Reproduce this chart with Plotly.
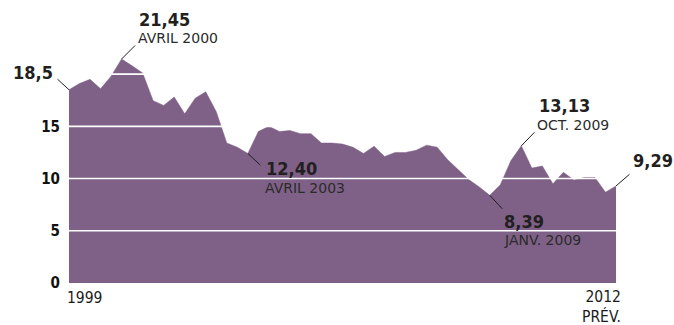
import plotly.graph_objects as go

# Quarterly series, 1999 to 2012 (forecast)
years = [1999.0 + 0.25 * i for i in range(53)]
values = [
    18.5, 19.1, 19.5, 18.6,          # 1999
    19.8, 21.45, 20.8, 20.1,         # 2000
    17.45, 17.0, 17.8, 16.2,         # 2001
    17.7, 18.3, 16.4, 13.4,          # 2002
    13.0, 12.40, 14.5, 15.0,         # 2003
    14.5, 14.6, 14.3, 14.3,          # 2004
    13.4, 13.4, 13.3, 13.0,          # 2005
    12.4, 13.1, 12.1, 12.5,          # 2006
    12.5, 12.7, 13.2, 13.0,          # 2007
    11.8, 10.8, 9.9, 9.2,            # 2008
    8.39, 9.4, 11.7, 13.13,          # 2009
    11.0, 11.2, 9.5, 10.6,           # 2010
    9.85, 10.1, 10.1, 8.7,           # 2011
    9.29,                            # 2012 prév.
]
ytick_vals = [0, 5, 10, 15]
ytick_text = ["0", "5", "10", "15"]
grid_vals = [5, 10, 15, 20]

# callouts: (x, y, value text, date text)
callouts = [
    (1999.0, 18.5, "18,5", None),
    (2000.25, 21.45, "21,45", "AVRIL 2000"),
    (2003.25, 12.40, "12,40", "AVRIL 2003"),
    (2009.0, 8.39, "8,39", "JANV. 2009"),
    (2009.75, 13.13, "13,13", "OCT. 2009"),
    (2012.0, 9.29, "9,29", None),
]
# leader offsets (px) and text placement per callout
leader = [(-13, -12), (15, -15), (14, 13), (14, 15), (14.5, -15), (15, -13)]
val_pos = [(-14, 17, "right"), (15, 39, "left"), (16, -15.5, "left"),
           (12, -26, "left"), (15.5, 40, "left"), (15, 25, "left")]
date_pos = [None, (14, 21), (15, -34.5), (12, -45), (14, 21), None]

FILL = "#7f6087"
TXT = "#231f20"
FONT = "DejaVu Sans Condensed"

fig = go.Figure()
fig.add_trace(go.Scatter(
    x=years, y=values, mode="lines", fill="tozeroy",
    fillcolor=FILL, line=dict(color=FILL, width=0.5),
    hoverinfo="skip", showlegend=False,
))

for g in grid_vals:
    fig.add_shape(type="line", xref="x domain", yref="y", x0=0, x1=1, y0=g, y1=g,
                  line=dict(color="#ffffff", width=1.6), layer="above")

anns = []
for i, (x, y, vt, dt) in enumerate(callouts):
    ax, ay = leader[i]
    anns.append(dict(x=x, y=y, xref="x", yref="y", text="", showarrow=True,
                     arrowhead=0, arrowwidth=1, arrowcolor=TXT, ax=ax, ay=ay,
                     standoff=0, startstandoff=0))
    xs, ys, anc = val_pos[i]
    anns.append(dict(x=x, y=y, xref="x", yref="y", text=vt, showarrow=False,
                     xanchor=anc, yanchor="middle", xshift=xs, yshift=ys,
                     font=dict(family=FONT, size=18, color=TXT, weight="bold")))
    if dt:
        xs2, ys2 = date_pos[i]
        anns.append(dict(x=x, y=y, xref="x", yref="y", text=dt, showarrow=False,
                         xanchor="left", yanchor="middle", xshift=xs2, yshift=ys2,
                         font=dict(family="DejaVu Sans", size=14, color="#2b2b2b")))

anns.append(dict(x=years[0], y=0, xref="x", yref="y", text="1999", showarrow=False,
                 xanchor="left", yanchor="middle", xshift=-4, yshift=-15,
                 font=dict(family=FONT, size=15.5, color="#1a1a1a")))
anns.append(dict(x=years[-1], y=0, xref="x", yref="y", text="2012<br>PRÉV.",
                 showarrow=False, align="right", xanchor="right", yanchor="middle",
                 xshift=7, yshift=-24,
                 font=dict(family=FONT, size=15.5, color="#1a1a1a")))

fig.update_layout(
    width=674, height=325,
    margin=dict(l=69, r=58, t=48, b=42),
    paper_bgcolor="white", plot_bgcolor="white",
    annotations=anns,
    xaxis=dict(range=[1999, 2012], showgrid=False, zeroline=False,
               showticklabels=False, showline=False, fixedrange=True),
    yaxis=dict(range=[0, 22.5], showgrid=False, zeroline=False,
               tickvals=ytick_vals, ticktext=ytick_text, ticks="",
               ticklabelstandoff=8,
               tickfont=dict(family=FONT, size=15, color="#111", weight="bold"),
               fixedrange=True),
)

fig.write_html("out.html", config={"displayModeBar": False})
